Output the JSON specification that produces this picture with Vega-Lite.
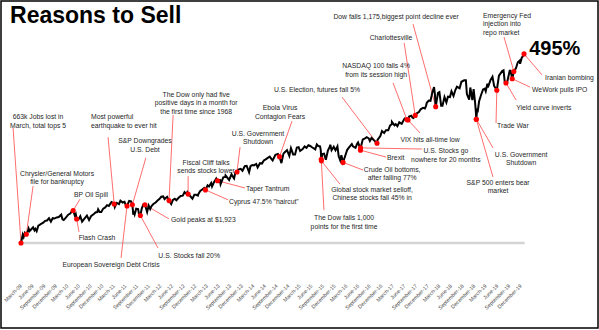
{
  "$schema": "https://vega.github.io/schema/vega-lite/v6.json",
  "width": 597,
  "height": 327,
  "autosize": {"type": "none"},
  "padding": {"left": 1, "top": 1, "right": 1, "bottom": 2},
  "background": "white",
  "config": {
    "view": {"stroke": "#000000", "strokeWidth": 1.5},
    "font": "Liberation Sans"
  },
  "datasets": {
    "baseline": [{"d": "2009-03-09", "d2": "2020-01-08", "v": 0}],
    "series": [
      {"d": "2009-03-09", "v": 0}, {"d": "2009-03-16", "v": 11}, {"d": "2009-03-23", "v": 22}, {"d": "2009-03-30", "v": 16},
      {"d": "2009-04-09", "v": 27}, {"d": "2009-04-20", "v": 23}, {"d": "2009-04-30", "v": 29}, {"d": "2009-05-08", "v": 38},
      {"d": "2009-05-15", "v": 31}, {"d": "2009-05-29", "v": 36}, {"d": "2009-06-12", "v": 41}, {"d": "2009-06-23", "v": 33},
      {"d": "2009-06-30", "v": 37}, {"d": "2009-07-10", "v": 31}, {"d": "2009-07-24", "v": 46}, {"d": "2009-07-31", "v": 47},
      {"d": "2009-08-14", "v": 50}, {"d": "2009-08-31", "v": 53}, {"d": "2009-09-15", "v": 58}, {"d": "2009-09-30", "v": 59},
      {"d": "2009-10-15", "v": 65}, {"d": "2009-10-30", "v": 56}, {"d": "2009-11-13", "v": 65}, {"d": "2009-11-27", "v": 64},
      {"d": "2009-12-15", "v": 67}, {"d": "2009-12-31", "v": 68},
      {"d": "2010-01-19", "v": 74}, {"d": "2010-01-29", "v": 62}, {"d": "2010-02-08", "v": 60}, {"d": "2010-02-26", "v": 67},
      {"d": "2010-03-15", "v": 74}, {"d": "2010-03-31", "v": 77}, {"d": "2010-04-15", "v": 84}, {"d": "2010-04-23", "v": 85},
      {"d": "2010-05-06", "v": 72}, {"d": "2010-05-13", "v": 76}, {"d": "2010-05-20", "v": 63}, {"d": "2010-06-04", "v": 62},
      {"d": "2010-06-18", "v": 70}, {"d": "2010-07-02", "v": 56}, {"d": "2010-07-16", "v": 62}, {"d": "2010-07-30", "v": 68},
      {"d": "2010-08-09", "v": 72}, {"d": "2010-08-26", "v": 60}, {"d": "2010-09-10", "v": 70}, {"d": "2010-09-30", "v": 75},
      {"d": "2010-10-15", "v": 80}, {"d": "2010-10-29", "v": 81}, {"d": "2010-11-05", "v": 88}, {"d": "2010-11-16", "v": 81},
      {"d": "2010-11-30", "v": 81}, {"d": "2010-12-15", "v": 90}, {"d": "2010-12-31", "v": 93},
      {"d": "2011-01-14", "v": 99}, {"d": "2011-01-28", "v": 97}, {"d": "2011-02-18", "v": 107}, {"d": "2011-02-28", "v": 105},
      {"d": "2011-03-11", "v": 102}, {"d": "2011-03-16", "v": 94}, {"d": "2011-03-31", "v": 105}, {"d": "2011-04-18", "v": 102},
      {"d": "2011-04-29", "v": 111}, {"d": "2011-05-16", "v": 106}, {"d": "2011-05-31", "v": 108}, {"d": "2011-06-15", "v": 96},
      {"d": "2011-06-20", "v": 97}, {"d": "2011-06-30", "v": 105}, {"d": "2011-07-07", "v": 110}, {"d": "2011-07-22", "v": 109},
      {"d": "2011-08-01", "v": 100}, {"d": "2011-08-05", "v": 87}, {"d": "2011-08-08", "v": 74}, {"d": "2011-08-12", "v": 83},
      {"d": "2011-08-19", "v": 75}, {"d": "2011-08-31", "v": 90}, {"d": "2011-09-15", "v": 89}, {"d": "2011-09-22", "v": 76},
      {"d": "2011-09-30", "v": 76}, {"d": "2011-10-03", "v": 72}, {"d": "2011-10-14", "v": 91}, {"d": "2011-10-27", "v": 101},
      {"d": "2011-11-08", "v": 100}, {"d": "2011-11-25", "v": 81}, {"d": "2011-12-07", "v": 98}, {"d": "2011-12-19", "v": 89},
      {"d": "2011-12-30", "v": 97},
      {"d": "2012-01-13", "v": 102}, {"d": "2012-01-31", "v": 106}, {"d": "2012-02-15", "v": 111}, {"d": "2012-02-29", "v": 115},
      {"d": "2012-03-15", "v": 121}, {"d": "2012-03-30", "v": 122}, {"d": "2012-04-10", "v": 115}, {"d": "2012-04-30", "v": 121},
      {"d": "2012-05-15", "v": 111}, {"d": "2012-06-01", "v": 102}, {"d": "2012-06-15", "v": 113}, {"d": "2012-06-29", "v": 116},
      {"d": "2012-07-12", "v": 112}, {"d": "2012-07-31", "v": 119}, {"d": "2012-08-15", "v": 123}, {"d": "2012-08-31", "v": 124},
      {"d": "2012-09-14", "v": 133}, {"d": "2012-09-28", "v": 129}, {"d": "2012-10-05", "v": 133}, {"d": "2012-10-12", "v": 128},
      {"d": "2012-10-23", "v": 125}, {"d": "2012-11-15", "v": 116}, {"d": "2012-11-30", "v": 126}, {"d": "2012-12-14", "v": 126},
      {"d": "2012-12-28", "v": 124}, {"d": "2012-12-31", "v": 128},
      {"d": "2013-01-15", "v": 136}, {"d": "2013-01-31", "v": 140}, {"d": "2013-02-15", "v": 144}, {"d": "2013-02-25", "v": 139},
      {"d": "2013-03-14", "v": 151}, {"d": "2013-03-25", "v": 148}, {"d": "2013-04-11", "v": 157}, {"d": "2013-04-18", "v": 148},
      {"d": "2013-04-30", "v": 157}, {"d": "2013-05-21", "v": 169}, {"d": "2013-05-31", "v": 163}, {"d": "2013-06-12", "v": 161},
      {"d": "2013-06-18", "v": 167}, {"d": "2013-06-24", "v": 154}, {"d": "2013-07-15", "v": 172}, {"d": "2013-07-31", "v": 173},
      {"d": "2013-08-02", "v": 177}, {"d": "2013-08-30", "v": 165}, {"d": "2013-09-18", "v": 180}, {"d": "2013-09-30", "v": 173},
      {"d": "2013-10-08", "v": 169}, {"d": "2013-10-18", "v": 184}, {"d": "2013-10-31", "v": 186}, {"d": "2013-11-15", "v": 193},
      {"d": "2013-11-29", "v": 194}, {"d": "2013-12-13", "v": 189}, {"d": "2013-12-31", "v": 201},
      {"d": "2014-01-15", "v": 202}, {"d": "2014-02-03", "v": 185}, {"d": "2014-02-14", "v": 201}, {"d": "2014-02-28", "v": 204},
      {"d": "2014-03-13", "v": 203}, {"d": "2014-03-31", "v": 207}, {"d": "2014-04-11", "v": 198}, {"d": "2014-04-30", "v": 209},
      {"d": "2014-05-15", "v": 208}, {"d": "2014-05-30", "v": 216}, {"d": "2014-06-13", "v": 219}, {"d": "2014-06-30", "v": 223},
      {"d": "2014-07-15", "v": 226}, {"d": "2014-07-31", "v": 219}, {"d": "2014-08-07", "v": 216}, {"d": "2014-08-29", "v": 231},
      {"d": "2014-09-18", "v": 233}, {"d": "2014-09-30", "v": 226}, {"d": "2014-10-15", "v": 209}, {"d": "2014-10-31", "v": 234},
      {"d": "2014-11-14", "v": 239}, {"d": "2014-11-28", "v": 243}, {"d": "2014-12-16", "v": 228}, {"d": "2014-12-29", "v": 248},
      {"d": "2015-01-15", "v": 232}, {"d": "2015-01-30", "v": 232}, {"d": "2015-02-13", "v": 250}, {"d": "2015-02-27", "v": 251},
      {"d": "2015-03-11", "v": 241}, {"d": "2015-03-31", "v": 246}, {"d": "2015-04-15", "v": 253}, {"d": "2015-04-30", "v": 249},
      {"d": "2015-05-15", "v": 256}, {"d": "2015-05-29", "v": 254}, {"d": "2015-06-15", "v": 250}, {"d": "2015-06-30", "v": 247},
      {"d": "2015-07-08", "v": 245}, {"d": "2015-07-20", "v": 258}, {"d": "2015-07-31", "v": 254}, {"d": "2015-08-14", "v": 253},
      {"d": "2015-08-20", "v": 243}, {"d": "2015-08-24", "v": 219}, {"d": "2015-08-25", "v": 215}, {"d": "2015-08-31", "v": 233},
      {"d": "2015-09-15", "v": 234}, {"d": "2015-09-29", "v": 218}, {"d": "2015-10-15", "v": 242}, {"d": "2015-10-30", "v": 252},
      {"d": "2015-11-03", "v": 257}, {"d": "2015-11-13", "v": 243}, {"d": "2015-11-30", "v": 252}, {"d": "2015-12-14", "v": 243},
      {"d": "2015-12-29", "v": 253},
      {"d": "2016-01-08", "v": 227}, {"d": "2016-01-20", "v": 216}, {"d": "2016-01-29", "v": 230}, {"d": "2016-02-11", "v": 211},
      {"d": "2016-02-29", "v": 229}, {"d": "2016-03-15", "v": 244}, {"d": "2016-03-31", "v": 251}, {"d": "2016-04-20", "v": 259},
      {"d": "2016-04-29", "v": 253}, {"d": "2016-05-19", "v": 249}, {"d": "2016-05-31", "v": 259}, {"d": "2016-06-08", "v": 263},
      {"d": "2016-06-24", "v": 249}, {"d": "2016-06-27", "v": 243}, {"d": "2016-06-28", "v": 249}, {"d": "2016-07-15", "v": 271},
      {"d": "2016-07-29", "v": 273}, {"d": "2016-08-15", "v": 277}, {"d": "2016-08-31", "v": 274}, {"d": "2016-09-09", "v": 267},
      {"d": "2016-09-22", "v": 275}, {"d": "2016-10-14", "v": 268}, {"d": "2016-11-04", "v": 261}, {"d": "2016-11-08", "v": 270},
      {"d": "2016-11-30", "v": 280}, {"d": "2016-12-13", "v": 293}, {"d": "2016-12-30", "v": 288},
      {"d": "2017-01-13", "v": 295}, {"d": "2017-01-31", "v": 295}, {"d": "2017-02-15", "v": 308}, {"d": "2017-02-28", "v": 311},
      {"d": "2017-03-01", "v": 317}, {"d": "2017-03-21", "v": 308}, {"d": "2017-03-31", "v": 311}, {"d": "2017-04-13", "v": 306},
      {"d": "2017-04-28", "v": 316}, {"d": "2017-05-17", "v": 312}, {"d": "2017-05-31", "v": 321}, {"d": "2017-06-09", "v": 326},
      {"d": "2017-06-27", "v": 323}, {"d": "2017-06-30", "v": 324}, {"d": "2017-07-06", "v": 322}, {"d": "2017-07-14", "v": 331},
      {"d": "2017-07-31", "v": 333}, {"d": "2017-08-10", "v": 328}, {"d": "2017-08-17", "v": 327}, {"d": "2017-08-31", "v": 334},
      {"d": "2017-09-15", "v": 340}, {"d": "2017-09-29", "v": 343}, {"d": "2017-10-13", "v": 350}, {"d": "2017-10-31", "v": 354},
      {"d": "2017-11-15", "v": 352}, {"d": "2017-11-24", "v": 359}, {"d": "2017-11-30", "v": 367}, {"d": "2017-12-15", "v": 373},
      {"d": "2017-12-29", "v": 372},
      {"d": "2018-01-12", "v": 393}, {"d": "2018-01-26", "v": 408}, {"d": "2018-02-02", "v": 389}, {"d": "2018-02-05", "v": 369},
      {"d": "2018-02-08", "v": 357}, {"d": "2018-02-26", "v": 393}, {"d": "2018-03-09", "v": 395}, {"d": "2018-03-23", "v": 359},
      {"d": "2018-04-02", "v": 359}, {"d": "2018-04-18", "v": 382}, {"d": "2018-05-03", "v": 368}, {"d": "2018-05-15", "v": 383},
      {"d": "2018-05-31", "v": 382}, {"d": "2018-06-12", "v": 397}, {"d": "2018-06-28", "v": 385}, {"d": "2018-07-13", "v": 401},
      {"d": "2018-07-25", "v": 409}, {"d": "2018-08-15", "v": 405}, {"d": "2018-08-29", "v": 422}, {"d": "2018-09-20", "v": 426},
      {"d": "2018-10-03", "v": 426}, {"d": "2018-10-11", "v": 390}, {"d": "2018-10-29", "v": 375}, {"d": "2018-11-07", "v": 407},
      {"d": "2018-11-23", "v": 374}, {"d": "2018-12-03", "v": 403}, {"d": "2018-12-14", "v": 369}, {"d": "2018-12-20", "v": 345},
      {"d": "2018-12-24", "v": 324}, {"d": "2018-12-31", "v": 352},
      {"d": "2019-01-03", "v": 342}, {"d": "2019-01-15", "v": 371}, {"d": "2019-01-31", "v": 388}, {"d": "2019-02-15", "v": 402},
      {"d": "2019-02-28", "v": 404}, {"d": "2019-03-08", "v": 397}, {"d": "2019-03-21", "v": 417}, {"d": "2019-03-25", "v": 407},
      {"d": "2019-04-15", "v": 427}, {"d": "2019-04-30", "v": 435}, {"d": "2019-05-13", "v": 411}, {"d": "2019-06-03", "v": 400},
      {"d": "2019-06-20", "v": 438}, {"d": "2019-07-15", "v": 450}, {"d": "2019-07-26", "v": 452}, {"d": "2019-08-05", "v": 420},
      {"d": "2019-08-14", "v": 419}, {"d": "2019-08-23", "v": 420}, {"d": "2019-09-12", "v": 451}, {"d": "2019-09-19", "v": 451},
      {"d": "2019-10-02", "v": 430}, {"d": "2019-10-15", "v": 449}, {"d": "2019-10-31", "v": 457}, {"d": "2019-11-15", "v": 473},
      {"d": "2019-11-29", "v": 477}, {"d": "2019-12-03", "v": 469}, {"d": "2019-12-16", "v": 485}, {"d": "2019-12-31", "v": 492},
      {"d": "2020-01-03", "v": 495}
    ],
    "events": [
      {"event": "663k jobs lost", "d": "2009-03-09", "v": 0, "d2": "2009-01-06", "v2": 301},
      {"event": "Chrysler/GM bankruptcy", "d": "2009-04-20", "v": 23, "d2": "2009-06-12", "v2": 149},
      {"event": "BP oil spill", "d": "2010-04-23", "v": 85, "d2": "2010-06-16", "v2": 115},
      {"event": "Flash crash", "d": "2010-05-20", "v": 63, "d2": "2010-06-08", "v2": 29},
      {"event": "Earthquake", "d": "2011-03-11", "v": 102, "d2": "2011-01-22", "v2": 277},
      {"event": "S&P downgrade", "d": "2011-08-01", "v": 100, "d2": "2011-11-15", "v2": 223},
      {"event": "European debt crisis", "d": "2011-06-20", "v": 97, "d2": "2011-05-04", "v2": -39},
      {"event": "Stocks fall 20%", "d": "2011-10-03", "v": 72, "d2": "2012-02-18", "v2": -13},
      {"event": "Gold peaks", "d": "2011-11-08", "v": 100, "d2": "2012-05-15", "v2": 63},
      {"event": "Five positive days", "d": "2012-05-15", "v": 111, "d2": "2012-06-16", "v2": 335},
      {"event": "Fiscal cliff", "d": "2012-10-12", "v": 128, "d2": "2012-10-12", "v2": 175},
      {"event": "Shutdown 2013", "d": "2013-10-31", "v": 186, "d2": "2013-11-24", "v2": 251},
      {"event": "Taper tantrum", "d": "2013-05-31", "v": 163, "d2": "2014-01-02", "v2": 144},
      {"event": "Cyprus", "d": "2013-02-25", "v": 139, "d2": "2013-08-22", "v2": 113},
      {"event": "Ebola", "d": "2014-09-30", "v": 226, "d2": "2015-01-06", "v2": 319},
      {"event": "Election", "d": "2016-11-04", "v": 261, "d2": "2016-02-03", "v2": 382},
      {"event": "NASDAQ 100", "d": "2017-06-27", "v": 323, "d2": "2017-03-10", "v2": 419},
      {"event": "Charlottesville", "d": "2017-08-31", "v": 334, "d2": "2017-06-05", "v2": 524},
      {"event": "Dow falls 1,175", "d": "2018-02-08", "v": 357, "d2": "2017-08-14", "v2": 573},
      {"event": "VIX low", "d": "2017-07-06", "v": 322, "d2": "2017-10-08", "v2": 288},
      {"event": "Nowhere for 20 months", "d": "2016-06-28", "v": 249, "d2": "2017-10-24", "v2": 246},
      {"event": "Brexit", "d": "2016-06-27", "v": 243, "d2": "2017-01-14", "v2": 225},
      {"event": "Crude oil bottoms", "d": "2016-02-11", "v": 211, "d2": "2016-07-17", "v2": 191},
      {"event": "Global selloff", "d": "2015-08-25", "v": 215, "d2": "2016-01-18", "v2": 154},
      {"event": "Dow falls 1,000", "d": "2015-08-24", "v": 219, "d2": "2015-09-14", "v2": 86},
      {"event": "Bear market", "d": "2018-12-24", "v": 324, "d2": "2019-05-04", "v2": 173},
      {"event": "Shutdown 2018", "d": "2018-12-24", "v": 324, "d2": "2019-05-04", "v2": 249},
      {"event": "Trade war", "d": "2019-06-03", "v": 400, "d2": "2019-05-28", "v2": 314},
      {"event": "Yield curve", "d": "2019-08-14", "v": 419, "d2": "2019-11-02", "v2": 374},
      {"event": "WeWork", "d": "2019-10-02", "v": 430, "d2": "2020-02-20", "v2": 408},
      {"event": "Repo injection", "d": "2019-10-15", "v": 449, "d2": "2019-07-30", "v2": 539},
      {"event": "Iranian bombing", "d": "2020-01-03", "v": 495, "d2": "2020-05-23", "v2": 440}
    ],
    "notesCentered": [
      {"note": "663k Jobs lost in|March, total tops 5", "d": "2009-07-21", "v": 324},
      {"note": "Chrysler/General Motors|file for bankruptcy", "d": "2009-12-17", "v": 176},
      {"note": "BP Oil Spill", "d": "2010-09-10", "v": 121},
      {"note": "Flash Crash", "d": "2010-10-27", "v": 8},
      {"note": "S&P Downgrades|U.S. Debt", "d": "2011-11-08", "v": 261},
      {"note": "European Sovereign Debt Crisis", "d": "2011-02-14", "v": -64},
      {"note": "U.S. Stocks fall 20%", "d": "2012-10-20", "v": -38},
      {"note": "The Dow only had five|positive days in a month for|the first time since 1968", "d": "2012-12-14", "v": 383},
      {"note": "Fiscal Cliff talks|sends stocks lower", "d": "2013-03-02", "v": 205},
      {"note": "U.S. Government|Shutdown", "d": "2014-04-14", "v": 281},
      {"note": "Ebola Virus|Contagion Fears", "d": "2014-10-04", "v": 347},
      {"note": "U.S. Election, futures fall 5%", "d": "2015-07-21", "v": 396},
      {"note": "NASDAQ 100 falls 4%|from its  session high", "d": "2016-10-28", "v": 458},
      {"note": "Charlottesville", "d": "2017-02-22", "v": 532},
      {"note": "Dow falls 1,175,biggest point decline ever", "d": "2017-04-03", "v": 586},
      {"note": "VIX hits all-time low", "d": "2017-12-26", "v": 265},
      {"note": "U.S. Stocks go|nowhere for 20 months", "d": "2018-04-29", "v": 235},
      {"note": "Crude Oil bottoms,|after falling 77%", "d": "2017-03-03", "v": 187},
      {"note": "Global stock market selloff,|Chinese stocks fall 45% in", "d": "2016-09-26", "v": 134},
      {"note": "The Dow falls 1,000|points for the first time", "d": "2016-02-19", "v": 59},
      {"note": "S&P 500 enters bear|market", "d": "2019-06-13", "v": 153},
      {"note": "U.S. Government|Shutdown", "d": "2019-12-11", "v": 226}
    ],
    "notesLeft": [
      {"note": "Most powerful|earthquake to ever hit", "d": "2010-09-10", "v": 324},
      {"note": "Gold peaks at $1,923", "d": "2012-05-31", "v": 55},
      {"note": "Taper Tantrum", "d": "2014-01-10", "v": 137},
      {"note": "Cyprus 47.5% \"haircut\"", "d": "2013-08-29", "v": 103},
      {"note": "Brexit", "d": "2017-01-22", "v": 217},
      {"note": "Trade War", "d": "2019-06-05", "v": 300},
      {"note": "Yield curve inverts", "d": "2019-11-02", "v": 349},
      {"note": "WeWork pulls IPO", "d": "2020-03-06", "v": 396},
      {"note": "Emergency Fed|injection into|repo market", "d": "2019-02-15", "v": 590},
      {"note": "Iranian bombing", "d": "2020-06-16", "v": 427}
    ],
    "headline": [{"note": "Reasons to Sell", "d": "2008-12-13", "v": 576}],
    "total": [{"note": "495%", "d": "2020-02-12", "v": 492}]
  },
  "encoding": {
    "x": {
      "field": "d", "type": "temporal",
      "scale": {"type": "utc", "nice": false, "domain": [{"year": 2008, "month": 10, "date": 3, "utc": true}, {"year": 2021, "month": 8, "date": 6, "utc": true}]},
      "axis": {
        "title": null, "domain": false, "ticks": false, "grid": false,
        "labelExpr": "utcFormat(datum.value, '%B-%y')",
        "labelAngle": -45, "labelAlign": "right", "labelBaseline": "top",
        "labelFontSize": 5.3, "labelColor": "#444444", "labelFont": "Liberation Sans",
        "labelPadding": 2, "labelOffset": -1, "offset": -47,
        "labelOverlap": false, "labelBound": false, "labelFlush": false,
        "values": [
          {"year": 2009, "month": 3, "date": 1, "utc": true}, {"year": 2009, "month": 6, "date": 1, "utc": true}, {"year": 2009, "month": 9, "date": 1, "utc": true}, {"year": 2009, "month": 12, "date": 1, "utc": true},
          {"year": 2010, "month": 3, "date": 1, "utc": true}, {"year": 2010, "month": 6, "date": 1, "utc": true}, {"year": 2010, "month": 9, "date": 1, "utc": true}, {"year": 2010, "month": 12, "date": 1, "utc": true},
          {"year": 2011, "month": 3, "date": 1, "utc": true}, {"year": 2011, "month": 6, "date": 1, "utc": true}, {"year": 2011, "month": 9, "date": 1, "utc": true}, {"year": 2011, "month": 12, "date": 1, "utc": true},
          {"year": 2012, "month": 3, "date": 1, "utc": true}, {"year": 2012, "month": 6, "date": 1, "utc": true}, {"year": 2012, "month": 9, "date": 1, "utc": true}, {"year": 2012, "month": 12, "date": 1, "utc": true},
          {"year": 2013, "month": 3, "date": 1, "utc": true}, {"year": 2013, "month": 6, "date": 1, "utc": true}, {"year": 2013, "month": 9, "date": 1, "utc": true}, {"year": 2013, "month": 12, "date": 1, "utc": true},
          {"year": 2014, "month": 3, "date": 1, "utc": true}, {"year": 2014, "month": 6, "date": 1, "utc": true}, {"year": 2014, "month": 9, "date": 1, "utc": true}, {"year": 2014, "month": 12, "date": 1, "utc": true},
          {"year": 2015, "month": 3, "date": 1, "utc": true}, {"year": 2015, "month": 6, "date": 1, "utc": true}, {"year": 2015, "month": 9, "date": 1, "utc": true}, {"year": 2015, "month": 12, "date": 1, "utc": true},
          {"year": 2016, "month": 3, "date": 1, "utc": true}, {"year": 2016, "month": 6, "date": 1, "utc": true}, {"year": 2016, "month": 9, "date": 1, "utc": true}, {"year": 2016, "month": 12, "date": 1, "utc": true},
          {"year": 2017, "month": 3, "date": 1, "utc": true}, {"year": 2017, "month": 6, "date": 1, "utc": true}, {"year": 2017, "month": 9, "date": 1, "utc": true}, {"year": 2017, "month": 12, "date": 1, "utc": true},
          {"year": 2018, "month": 3, "date": 1, "utc": true}, {"year": 2018, "month": 6, "date": 1, "utc": true}, {"year": 2018, "month": 9, "date": 1, "utc": true}, {"year": 2018, "month": 12, "date": 1, "utc": true},
          {"year": 2019, "month": 3, "date": 1, "utc": true}, {"year": 2019, "month": 6, "date": 1, "utc": true}, {"year": 2019, "month": 9, "date": 1, "utc": true}, {"year": 2019, "month": 12, "date": 1, "utc": true}
        ]
      }
    },
    "y": {"field": "v", "type": "quantitative", "axis": null, "scale": {"domain": [-222.5, 633.5], "nice": false, "zero": false}}
  },
  "layer": [
    {
      "data": {"name": "baseline"},
      "mark": {"type": "rule", "color": "#d4d4d4", "strokeWidth": 2.5},
      "encoding": {"x2": {"field": "d2"}}
    },
    {
      "data": {"name": "events"},
      "mark": {"type": "rule", "color": "#ff5c5c", "strokeWidth": 0.9},
      "encoding": {"x2": {"field": "d2"}, "y2": {"field": "v2"}}
    },
    {
      "data": {"name": "series"},
      "mark": {"type": "line", "color": "#000000", "strokeWidth": 2},
      "encoding": {}
    },
    {
      "data": {"name": "events"},
      "mark": {"type": "circle", "color": "#ff0000", "opacity": 1, "size": 26},
      "encoding": {}
    },
    {
      "data": {"name": "notesCentered"},
      "mark": {"type": "text", "align": "center", "baseline": "alphabetic", "font": "Liberation Sans", "fontSize": 6.8, "lineHeight": 8.5, "lineBreak": "|", "color": "#262626"},
      "encoding": {"text": {"field": "note"}}
    },
    {
      "data": {"name": "notesLeft"},
      "mark": {"type": "text", "align": "left", "baseline": "alphabetic", "font": "Liberation Sans", "fontSize": 6.8, "lineHeight": 8.5, "lineBreak": "|", "color": "#262626"},
      "encoding": {"text": {"field": "note"}}
    },
    {
      "data": {"name": "headline"},
      "mark": {"type": "text", "align": "left", "baseline": "alphabetic", "font": "Liberation Sans", "fontSize": 23, "fontWeight": "bold", "color": "#000000"},
      "encoding": {"text": {"field": "note"}}
    },
    {
      "data": {"name": "total"},
      "mark": {"type": "text", "align": "left", "baseline": "alphabetic", "font": "Liberation Sans", "fontSize": 20, "fontWeight": "bold", "color": "#000000"},
      "encoding": {"text": {"field": "note"}}
    }
  ]
}
